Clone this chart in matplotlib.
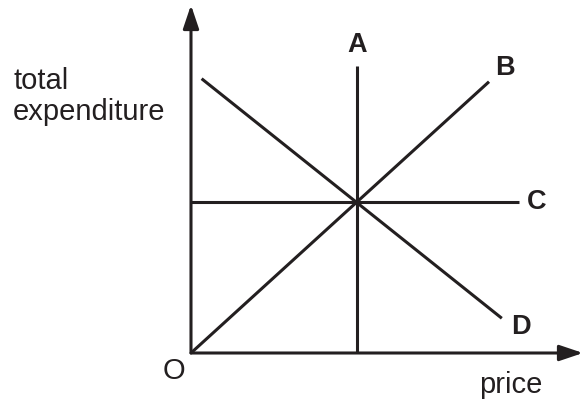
import matplotlib
matplotlib.use("Agg")
import matplotlib.pyplot as plt

# diagram data: intersection of all four lines at price=1, expenditure=1
line_names = ["A", "B", "C", "D"]
line_price = {
    "A": [1.0, 1.0],
    "B": [0.0, 1.795],
    "C": [0.0, 1.976],
    "D": [0.064, 1.872],
}
line_expend = {
    "A": [0.0, 1.90],
    "B": [0.0, 1.797],
    "C": [1.0, 1.0],
    "D": [1.817, 0.23],
}
label_pos = {
    "A": (1.0, 2.04),
    "B": (1.89, 1.887),
    "C": (2.084, 1.0),
    "D": (1.988, 0.172),
}
x_max, y_max = 2.361, 2.305

INK = "#231f20"
plt.rcParams["font.family"] = ["Liberation Sans", "DejaVu Sans"]

fig = plt.figure(figsize=(5.83, 4.01), dpi=100)
ax = fig.add_axes([0.3276, 0.1197, 0.6724, 0.8678])
ax.set_xlim(0, x_max); ax.set_ylim(0, y_max)
ax.axis("off")

for name in line_names:
    ax.plot(line_price[name], line_expend[name], color=INK, lw=2.2,
            solid_capstyle="butt", clip_on=False)
    ax.text(*label_pos[name], name, ha="center", va="center", fontsize=19.5,
            fontweight="bold", color=INK)

arrow = dict(arrowstyle="-|>,head_length=0.95,head_width=0.32", color=INK, lw=2.2,
             mutation_scale=15, shrinkA=0, shrinkB=0)
ax.annotate("", xy=(x_max, 0), xytext=(0, 0), arrowprops=arrow, annotation_clip=False)
ax.annotate("", xy=(0, y_max), xytext=(0, 0), arrowprops=arrow, annotation_clip=False)

ax.text(-0.102, -0.119, "O", ha="center", va="center", fontsize=21, color=INK)
ax.text(1.928, -0.212, "price", ha="center", va="center", fontsize=21, color=INK)
ax.text(-1.072, 1.699, "total\nexpenditure", ha="left", va="center", fontsize=21,
        color=INK, linespacing=1.1)

fig.savefig("out.png", dpi=100)
